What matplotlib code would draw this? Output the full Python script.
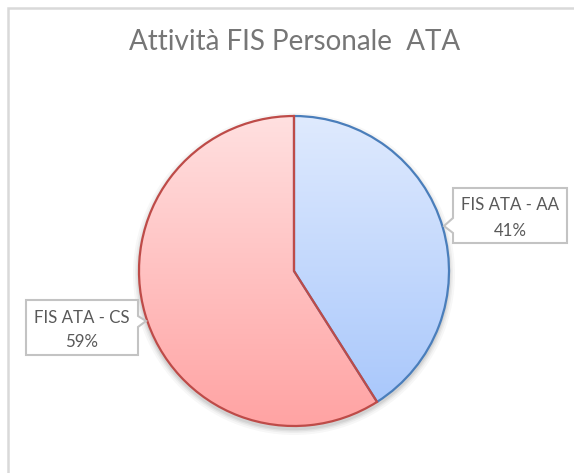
import numpy as np
import matplotlib
matplotlib.use("Agg")
import matplotlib.pyplot as plt
from matplotlib.patches import Polygon, Rectangle, Circle

# ---- data ----
title = "Attività FIS Personale  ATA"
categories = ["FIS ATA - AA", "FIS ATA - CS"]
values = [41, 59]
edge_colors = ["#4a7ebb", "#be4b48"]
grad_top = ["#dfeafe", "#ffe0e0"]
grad_bot = ["#a5c5fb", "#ffa3a3"]

W, H = 574, 473
fig = plt.figure(figsize=(W / 100, H / 100), dpi=100)
ax = fig.add_axes([0, 0, 1, 1])

def Y(py):
    return H - py

cx, cy, R = 294, Y(271), 155

# shadow
for k, a in [(6, 0.03), (4, 0.04), (2.5, 0.05), (1.2, 0.06)]:
    ax.add_patch(Circle((cx, cy - 3), R + k, facecolor="#000000", edgecolor="none", alpha=a, zorder=0.5))

wedges, _ = ax.pie(values, startangle=90, counterclock=False, radius=R, center=(cx, cy),
                   wedgeprops=dict(linewidth=1.6), frame=True)

def hex2rgb(h):
    h = h.lstrip("#")
    return np.array([int(h[i:i + 2], 16) / 255 for i in (0, 2, 4)])

for i, w in enumerate(wedges):
    t = np.linspace(0, 1, 256)[:, None]
    c0, c1 = hex2rgb(grad_top[i]), hex2rgb(grad_bot[i])
    img = (c0[None, None, :] * (1 - t[..., None]) + c1[None, None, :] * t[..., None])
    img = np.repeat(img, 2, axis=1)
    im = ax.imshow(img, extent=(cx - R, cx + R, cy - R, cy + R), origin="upper",
                   zorder=1 + i * 0.1, aspect="auto", interpolation="bilinear")
    im.set_clip_path(w)
    w.set_facecolor("none")
    w.set_edgecolor(edge_colors[i])
    w.set_zorder(2 + i * 0.1)

# outer frame (extends beyond right and bottom edges)
fig.patches.append(Rectangle((8 / W, -0.5), 2, (Y(8) / H) + 0.5, transform=fig.transFigure,
                             facecolor="none", edgecolor="#d9d9d9", linewidth=1.8))

ax.set_xlim(0, W)
ax.set_ylim(0, H)
ax.set_aspect("equal")
ax.axis("off")

ax.text(295, Y(50), title, ha="center", va="baseline", fontsize=20,
        color="#767676", family="Lato")

def callout(box, notch, lines, baselines):
    x0, y0, x1, y1 = box
    side, n0, tip, n1 = notch
    if side == "left":
        pts = [(x0, y0), (x1, y0), (x1, y1), (x0, y1), (x0, n1), tip, (x0, n0)]
    else:
        pts = [(x0, y0), (x1, y0), (x1, n0), tip, (x1, n1), (x1, y1), (x0, y1)]
    ax.add_patch(Polygon([(x, Y(y)) for x, y in pts], closed=True, facecolor="white",
                         edgecolor="#c3c3c3", linewidth=1.5, zorder=5))
    xc = (x0 + x1) / 2
    for s, b in zip(lines, baselines):
        ax.text(xc, Y(b), s, ha="center", va="baseline", fontsize=12.2,
                color="#595959", family="Lato", zorder=6)

callout((453, 188, 567, 243), ("left", 218, (444, 226), 233),
        [categories[0], f"{values[0]}%"], [210, 236])
callout((26, 300, 138, 355), ("right", 316, (146, 321), 327),
        [categories[1], f"{values[1]}%"], [323, 347])

fig.savefig("out.png", dpi=100)
